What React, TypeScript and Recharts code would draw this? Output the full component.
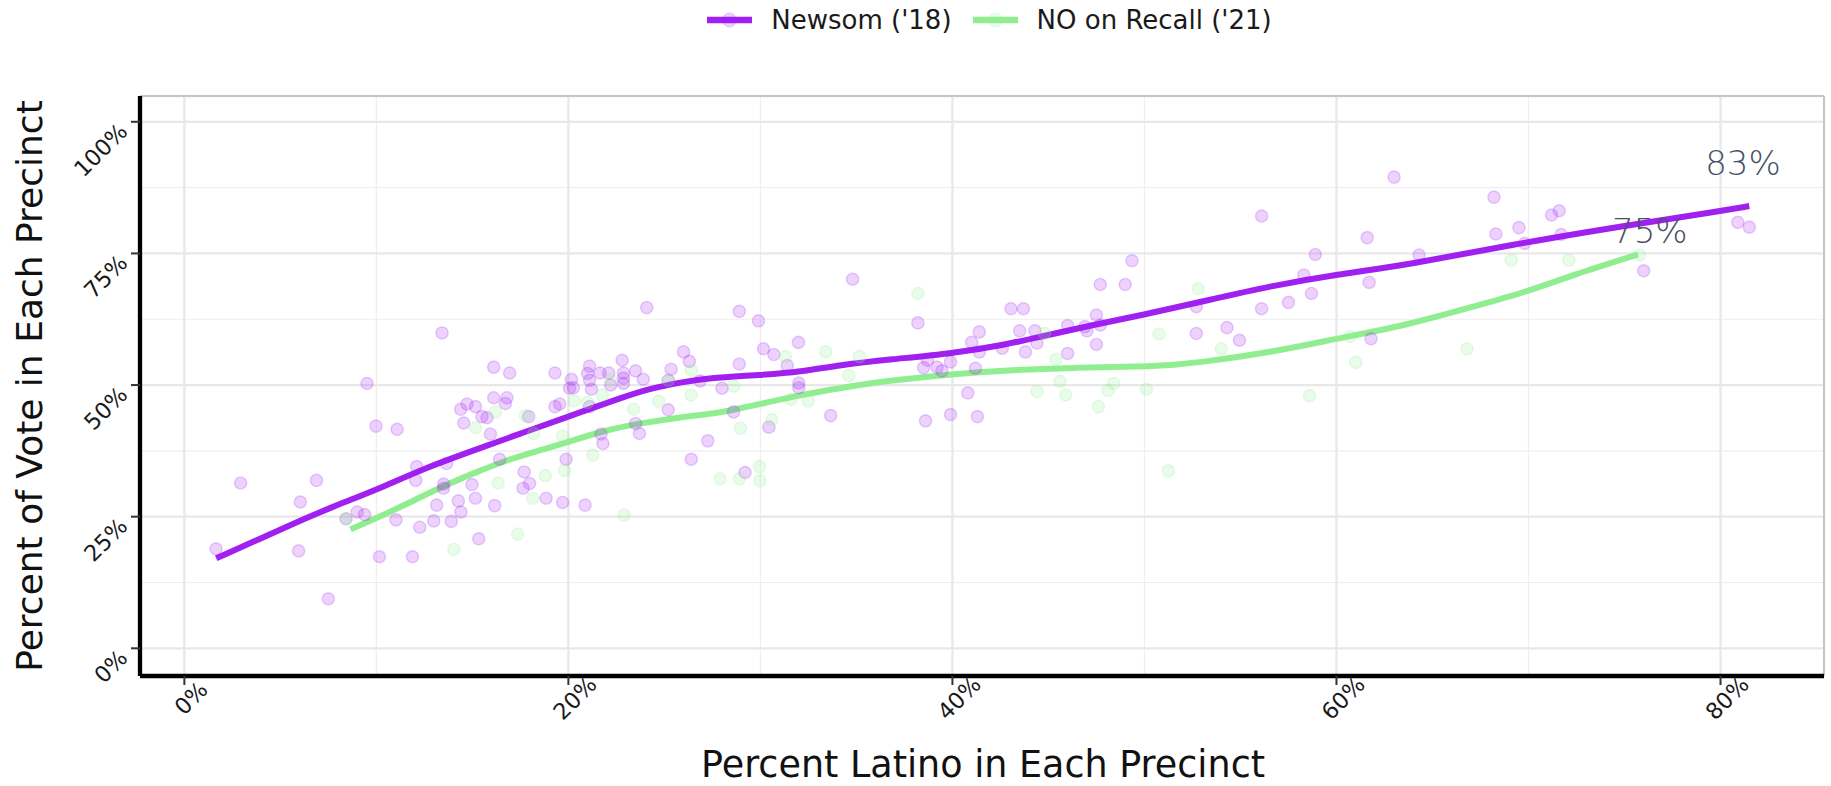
import React from 'react';
import {
  ComposedChart,
  Scatter,
  Line,
  XAxis,
  YAxis,
  CartesianGrid,
  ReferenceLine,
  ReferenceDot,
  Legend,
} from 'recharts';

const PURPLE = '#A020F0';
const GREEN = '#90EE90';
const FONT = '"DejaVu Sans", sans-serif';

// axis setup
const xTicks = [0, 20, 40, 60, 80];
const yTicks = [0, 25, 50, 75, 100];
const xMinorTicks = [10, 30, 50, 70];
const yMinorTicks = [12.5, 37.5, 62.5, 87.5];
const xDomain: [number, number] = [-2.31, 85.39];
const yDomain: [number, number] = [-5.26, 104.9];

// [percent latino, percent of vote] per precinct
const newsomPrecincts: [number, number][] = [
  [1.65, 18.9], [2.93, 31.4], [5.95, 18.5], [6.04, 27.8], [6.88, 31.9], [7.5, 9.4],
  [8.42, 24.6], [9.0, 25.9], [9.39, 25.4], [9.51, 50.3], [9.98, 42.2], [10.16, 17.4],
  [11.08, 41.6], [11.02, 24.4], [11.88, 17.4], [12.1, 34.5], [12.05, 31.9], [12.26, 23.0],
  [13.14, 27.2], [13.42, 59.9], [13.66, 35.1], [13.5, 31.2], [13.5, 30.4], [12.99, 24.2],
  [13.9, 24.1], [14.27, 28.0], [14.4, 25.9], [14.39, 45.4], [14.72, 46.4], [15.16, 45.9],
  [14.55, 42.8], [14.98, 31.1], [15.16, 28.5], [15.33, 20.8], [15.5, 44.0], [15.76, 43.8],
  [15.94, 40.7], [16.11, 53.4], [16.11, 47.6], [16.72, 46.5], [16.8, 47.6], [16.94, 52.3],
  [16.16, 27.1], [16.42, 35.9], [17.7, 33.5], [17.98, 31.3], [17.64, 30.4], [17.93, 44.0],
  [18.84, 28.5], [19.3, 52.3], [19.3, 45.9], [19.55, 46.4],
  [19.7, 27.7], [19.88, 35.9], [20.16, 51.1], [20.06, 49.4], [20.26, 49.5], [20.87, 27.2],
  [21.1, 53.6], [21.0, 52.2], [21.1, 50.9], [21.2, 49.2], [21.1, 45.9], [21.65, 52.3],
  [22.1, 52.3], [21.8, 38.9], [21.7, 40.7], [22.2, 50.0], [22.8, 54.7], [22.87, 52.3],
  [22.87, 51.3], [22.87, 50.3], [23.5, 52.7], [23.7, 40.8], [23.5, 42.7], [23.9, 51.1],
  [24.08, 64.7], [25.2, 45.3], [25.35, 53.0], [25.2, 50.9], [26.0, 56.3], [26.3, 54.5],
  [26.4, 35.9], [26.86, 50.8], [27.26, 39.4], [28.0, 49.4], [28.6, 44.9], [28.9, 54.0],
  [28.9, 64.0], [29.2, 33.4], [29.9, 62.2], [30.16, 56.9], [30.7, 55.8], [30.44, 42.0],
  [31.4, 53.7], [31.98, 58.1], [32.0, 50.4], [32.0, 49.5], [33.66, 44.2], [34.8, 70.1],
  [38.2, 61.8], [38.5, 53.3], [38.7, 54.7], [39.2, 53.4], [39.45, 52.7], [39.9, 54.4],
  [38.6, 43.2], [39.9, 44.4],
  [40.8, 48.5], [41.2, 53.2], [41.0, 58.1], [41.4, 60.1], [41.4, 56.3], [41.3, 44.0],
  [42.6, 57.0], [43.05, 64.5], [43.7, 64.5], [43.5, 60.3], [43.8, 56.3], [44.3, 60.3],
  [44.4, 58.0], [46.0, 56.0], [46.0, 61.3], [46.9, 61.1], [47.0, 60.3], [47.5, 63.3],
  [47.5, 57.7], [47.7, 69.1], [47.7, 61.4], [49.0, 69.1], [49.35, 73.6], [52.7, 64.9],
  [52.7, 59.8], [54.3, 60.9], [54.95, 58.5], [56.1, 82.1], [56.1, 64.5], [57.5, 65.7],
  [58.3, 70.9], [58.9, 74.8], [58.7, 67.4],
  [63.0, 89.5], [61.6, 78.0], [61.7, 69.5], [61.8, 58.8], [64.3, 74.7], [68.2, 85.7],
  [68.3, 78.7], [69.5, 79.9], [69.8, 76.9], [71.2, 82.3], [71.6, 83.1], [71.7, 78.6],
  [76.0, 71.7], [80.9, 80.9], [81.5, 80.0],
];

const recallPrecincts: [number, number][] = [
  [8.42, 24.6], [14.03, 18.8], [15.16, 41.9], [16.2, 44.9], [16.34, 31.4], [17.36, 21.7],
  [17.76, 44.2], [18.2, 40.8], [18.15, 28.5], [18.8, 32.8], [19.7, 40.3], [19.8, 33.8],
  [20.3, 47.0], [21.0, 46.7], [21.27, 36.7], [21.77, 48.1], [22.2, 51.0], [22.9, 25.3],
  [23.4, 45.4], [24.7, 46.9], [25.2, 50.9], [26.4, 48.1], [26.4, 52.8], [27.9, 32.2],
  [28.6, 49.8], [28.96, 41.8], [28.9, 32.2], [29.95, 34.5], [29.98, 31.8], [30.6, 43.4],
  [31.3, 55.4], [31.6, 47.3], [32.5, 47.0], [33.4, 56.3], [34.6, 51.8], [35.16, 55.4],
  [38.2, 67.4], [44.4, 48.8], [44.8, 59.8], [45.4, 54.9], [45.6, 50.7], [45.9, 48.1],
  [47.6, 45.9], [48.1, 49.0], [48.4, 50.3], [50.1, 49.2], [50.75, 59.7], [51.25, 33.7],
  [52.8, 68.3], [54.0, 56.9], [58.6, 48.0], [60.7, 59.2], [61.0, 54.3], [66.8, 56.9],
  [69.1, 73.7], [72.1, 73.7], [75.8, 74.7],
];

// loess fits
const newsomFit: [number, number][] = [
  [1.66, 17.1], [4, 20.9], [6, 24.2], [8, 27.3], [10, 30.1], [12.5, 34.2], [15, 37.5],
  [17.5, 40.8], [20, 44.0], [22.9, 47.8], [24.3, 49.4], [26, 50.6], [27.2, 51.3],
  [30, 51.9], [32.1, 52.5], [34.1, 53.8], [36.8, 54.9], [40, 56.0], [42.8, 57.7],
  [44.6, 59.2], [47.3, 61.4], [49.9, 63.3], [53.3, 66.1], [56.7, 68.9], [60, 71.0],
  [63.7, 72.8], [69.9, 77.2], [75.8, 80.7], [79.9, 83.0], [81.5, 84.0],
];

const recallFit: [number, number][] = [
  [8.65, 22.6], [10, 24.7], [11.7, 27.6], [13.4, 30.7], [15.16, 33.4], [16.9, 35.9],
  [18.5, 37.6], [20, 39.2], [22, 41.5], [23.7, 42.7], [26, 44.0], [27.9, 44.7],
  [28.9, 45.6], [30, 46.4], [32.1, 48.1], [34.1, 49.4], [36.8, 50.9], [40, 52.1],
  [42.8, 52.8], [46.3, 53.3], [49.9, 53.5], [51.5, 53.8], [53.3, 54.5], [56.7, 56.3],
  [60, 58.8], [63.7, 61.4], [67.1, 64.9], [69.9, 67.7], [72.3, 70.9], [75.7, 74.8],
];

const annotationText = ['83%', '75%'];
const annotationX = [79.2, 74.35];
const annotationY = [89.95, 76.9];

const seriesNames = ["Newsom ('18)", "NO on Recall ('21)"];
const seriesColors = [PURPLE, GREEN];

const toPoints = (rows: [number, number][]) => rows.map(([x, y]) => ({ x, y }));
const newsomData = toPoints(newsomPrecincts);
const recallData = toPoints(recallPrecincts);
const newsomLine = toPoints(newsomFit);
const recallLine = toPoints(recallFit);

const dotShape = (color: string) => (props: any) => (
  <circle
    cx={props.cx}
    cy={props.cy}
    r={6.1}
    fill={color}
    fillOpacity={0.2}
    stroke={color}
    strokeOpacity={0.22}
    strokeWidth={1.4}
  />
);

function XTick(props: any) {
  const { x, y, payload } = props;
  const cx = x + 6.5;
  const cy = y + 11;
  return (
    <text
      x={cx}
      y={cy}
      transform={`rotate(-45 ${cx} ${cy})`}
      textAnchor="middle"
      dominantBaseline="central"
      fontFamily={FONT}
      fontSize={22.5}
      fill="#1a1a1a"
    >
      {payload.value}%
    </text>
  );
}

function YTick(props: any) {
  const { x, y, payload } = props;
  const ty = y + 11;
  return (
    <text
      x={x}
      y={ty}
      transform={`rotate(-45 ${x} ${ty})`}
      textAnchor="end"
      fontFamily={FONT}
      fontSize={22.5}
      fill="#1a1a1a"
    >
      {payload.value}%
    </text>
  );
}

function LegendBox() {
  return (
    <div
      style={{
        display: 'flex',
        justifyContent: 'center',
        alignItems: 'center',
        height: 40,
        paddingLeft: 148,
        boxSizing: 'border-box',
        fontFamily: FONT,
        fontSize: 26,
        color: '#1a1a1a',
      }}
    >
      {seriesNames.map((name, i) => (
        <div key={name} style={{ display: 'flex', alignItems: 'center', marginLeft: i ? 21 : 0 }}>
          <svg width={45} height={20} style={{ marginRight: 19 }}>
            <line x1={0} x2={45} y1={10} y2={10} stroke={seriesColors[i]} strokeWidth={6.5} />
            <circle
              cx={22.5}
              cy={10}
              r={7}
              fill={seriesColors[i]}
              fillOpacity={0.2}
              stroke={seriesColors[i]}
              strokeOpacity={0.2}
            />
          </svg>
          <span style={{ whiteSpace: 'nowrap' }}>{name}</span>
        </div>
      ))}
    </div>
  );
}

export default function App() {
  return (
    <div style={{ position: 'absolute', left: 0, top: 0, background: '#fff' }}>
      <ComposedChart width={1831} height={786} margin={{ top: 96, right: 7, bottom: 0, left: 0 }}>
        <XAxis
          xAxisId="minor"
          type="number"
          dataKey="x"
          domain={xDomain}
          ticks={xMinorTicks}
          allowDataOverflow
          hide
        />
        <YAxis
          yAxisId="minor"
          type="number"
          dataKey="y"
          domain={yDomain}
          ticks={yMinorTicks}
          allowDataOverflow
          hide
        />
        <CartesianGrid xAxisId="minor" yAxisId="minor" stroke="#eeeeee" strokeWidth={1.2} />
        <CartesianGrid stroke="#e8e8e8" strokeWidth={2.3} />
        <XAxis
          type="number"
          dataKey="x"
          domain={xDomain}
          ticks={xTicks}
          allowDataOverflow
          height={110}
          tickSize={9}
          axisLine={{ stroke: '#000', strokeWidth: 4.3 }}
          tickLine={{ stroke: '#333', strokeWidth: 2 }}
          tick={<XTick />}
          label={(p: any) => (
            <text
              x={p.viewBox.x + p.viewBox.width / 2 + 1}
              y={p.viewBox.y + 101}
              textAnchor="middle"
              fontFamily={FONT}
              fontSize={36.5}
              fill="#111"
            >
              Percent Latino in Each Precinct
            </text>
          )}
        />
        <YAxis
          type="number"
          dataKey="y"
          domain={yDomain}
          ticks={yTicks}
          allowDataOverflow
          width={140}
          tickSize={9}
          axisLine={{ stroke: '#000', strokeWidth: 4.3 }}
          tickLine={{ stroke: '#333', strokeWidth: 2 }}
          tick={<YTick />}
          label={(p: any) => {
            const lx = p.viewBox.x + 42;
            const ly = p.viewBox.y + p.viewBox.height / 2;
            return (
              <text
                x={lx}
                y={ly}
                transform={`rotate(-90 ${lx} ${ly})`}
                textAnchor="middle"
                fontFamily={FONT}
                fontSize={36}
                fill="#111"
              >
                Percent of Vote in Each Precinct
              </text>
            );
          }}
        />
        <ReferenceLine y={yDomain[1]} stroke="#bdbdbd" strokeWidth={1.6} />
        <ReferenceLine x={xDomain[1]} stroke="#bdbdbd" strokeWidth={1.6} />
        <Legend
          verticalAlign="middle"
          align="center"
          layout="horizontal"
          wrapperStyle={{ top: 0, left: 0, width: 1831, height: 40 }}
          content={() => <LegendBox />}
        />
        <Scatter
          name={seriesNames[0]}
          data={newsomData}
          shape={dotShape(PURPLE)}
          isAnimationActive={false}
        />
        <Scatter
          name={seriesNames[1]}
          data={recallData}
          shape={dotShape(GREEN)}
          isAnimationActive={false}
        />
        <Line
          data={newsomLine}
          dataKey="y"
          type="basis"
          stroke={PURPLE}
          strokeWidth={6}
          dot={false}
          activeDot={false}
          legendType="none"
          isAnimationActive={false}
        />
        <Line
          data={recallLine}
          dataKey="y"
          type="basis"
          stroke={GREEN}
          strokeWidth={6}
          dot={false}
          activeDot={false}
          legendType="none"
          isAnimationActive={false}
        />
        {annotationText.map((t, i) => (
          <ReferenceDot
            key={t}
            x={annotationX[i]}
            y={annotationY[i]}
            r={0}
            stroke="none"
            fill="none"
            label={(p: any) => (
              <text
                x={p.viewBox.x}
                y={p.viewBox.y}
                fontFamily={FONT}
                fontWeight={200}
                fontSize={34}
                fill="#4a5064"
              >
                {t}
              </text>
            )}
          />
        ))}
      </ComposedChart>
    </div>
  );
}
